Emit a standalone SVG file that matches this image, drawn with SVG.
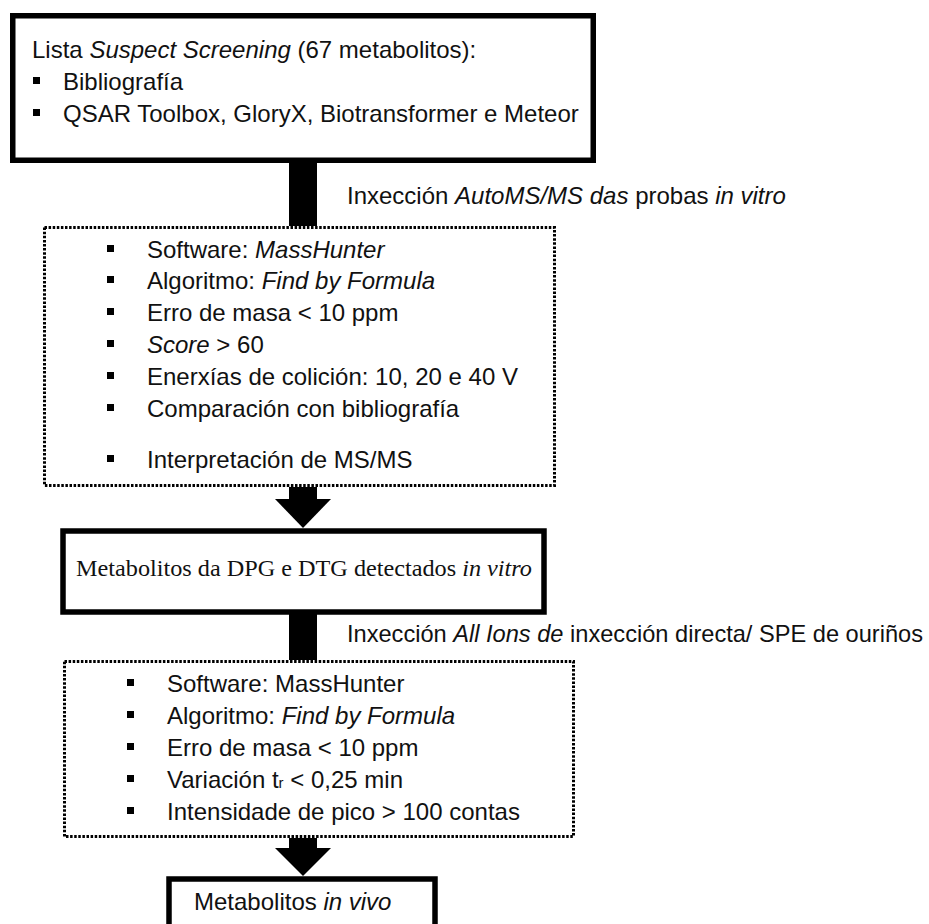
<svg xmlns="http://www.w3.org/2000/svg" width="929" height="924" viewBox="0 0 929 924">
  <style>
    .t { font-family: "Liberation Sans", Arial, sans-serif; font-size: 24px; fill: #111; }
    .tm { font-family: "Liberation Serif", "Times New Roman", serif; font-size: 24px; fill: #111; }
    .i { font-style: italic; }
    .solid { fill: #fff; stroke: #000; stroke-width: 5.5; }
    .dotted { fill: none; stroke: #000; stroke-width: 3; stroke-dasharray: 2.5 1.6; }
    .bul { fill: #000; }
    .conn { fill: #000; }
  </style>
  <rect width="929" height="924" fill="#fff"/>

  <g id="connectors">
    <rect class="conn" x="289" y="162" width="28" height="64"/>
    <rect class="conn" x="289" y="487" width="28" height="13"/>
    <polygon class="conn" points="275,499 331,499 303,528"/>
    <rect class="conn" x="289" y="613" width="28" height="47"/>
    <rect class="conn" x="289" y="838" width="28" height="11"/>
    <polygon class="conn" points="275,848 331,848 303,876"/>
    <text id="label1" class="t" x="347" y="204">Inxección <tspan class="i">AutoMS/MS das</tspan> probas <tspan class="i">in vitro</tspan></text>
    <text id="label2" class="t" x="347" y="642" textLength="576" lengthAdjust="spacingAndGlyphs">Inxección <tspan class="i">All Ions de</tspan> inxección directa/ SPE de ouriños</text>
  </g>

  <g id="node-suspect">
    <rect class="solid" x="12.75" y="15.75" width="580.5" height="144.5"/>
    <text class="t" x="32" y="58">Lista <tspan class="i">Suspect Screening</tspan> (67 metabolitos):</text>
    <rect class="bul" x="33" y="77" width="7" height="7"/>
    <text class="t" x="63" y="90">Bibliografía</text>
    <rect class="bul" x="33" y="109" width="7" height="7"/>
    <text class="t" x="63" y="122">QSAR Toolbox, GloryX, Biotransformer e Meteor</text>
  </g>

  <g id="node-invitro-criteria">
    <rect class="dotted" x="44.5" y="227.5" width="510" height="258"/>
    <rect class="bul" x="107" y="245" width="7" height="7"/>
    <text class="t" x="147" y="258">Software: <tspan class="i">MassHunter</tspan></text>
    <rect class="bul" x="107" y="276" width="7" height="7"/>
    <text class="t" x="147" y="289">Algoritmo: <tspan class="i">Find by Formula</tspan></text>
    <rect class="bul" x="107" y="308" width="7" height="7"/>
    <text class="t" x="147" y="321">Erro de masa &lt; 10 ppm</text>
    <rect class="bul" x="107" y="340" width="7" height="7"/>
    <text class="t" x="147" y="353"><tspan class="i">Score</tspan> &gt; 60</text>
    <rect class="bul" x="107" y="372" width="7" height="7"/>
    <text class="t" x="147" y="385">Enerxías de colición: 10, 20 e 40 V</text>
    <rect class="bul" x="107" y="404" width="7" height="7"/>
    <text class="t" x="147" y="417">Comparación con bibliografía</text>
    <rect class="bul" x="107" y="455" width="7" height="7"/>
    <text class="t" x="147" y="468">Interpretación de MS/MS</text>
  </g>

  <g id="node-invitro-metabolites">
    <rect class="solid" x="63" y="531" width="481" height="81"/>
    <text class="tm" x="76" y="576" textLength="456" lengthAdjust="spacingAndGlyphs">Metabolitos da DPG e DTG detectados <tspan class="i">in vitro</tspan></text>
  </g>

  <g id="node-invivo-criteria">
    <rect class="dotted" x="64.5" y="661.5" width="509" height="175"/>
    <rect class="bul" x="127" y="679" width="7" height="7"/>
    <text class="t" x="167" y="692">Software: MassHunter</text>
    <rect class="bul" x="127" y="711" width="7" height="7"/>
    <text class="t" x="167" y="724">Algoritmo: <tspan class="i">Find by Formula</tspan></text>
    <rect class="bul" x="127" y="743" width="7" height="7"/>
    <text class="t" x="167" y="756">Erro de masa &lt; 10 ppm</text>
    <rect class="bul" x="127" y="775" width="7" height="7"/>
    <text class="t" x="167" y="788">Variación t<tspan font-size="15">r</tspan> &lt; 0,25 min</text>
    <rect class="bul" x="127" y="807" width="7" height="7"/>
    <text class="t" x="167" y="820">Intensidade de pico &gt; 100 contas</text>
  </g>

  <g id="node-invivo">
    <rect class="solid" x="169" y="879" width="266" height="60"/>
    <text class="t" x="194" y="910">Metabolitos <tspan class="i">in vivo</tspan></text>
  </g>
</svg>
